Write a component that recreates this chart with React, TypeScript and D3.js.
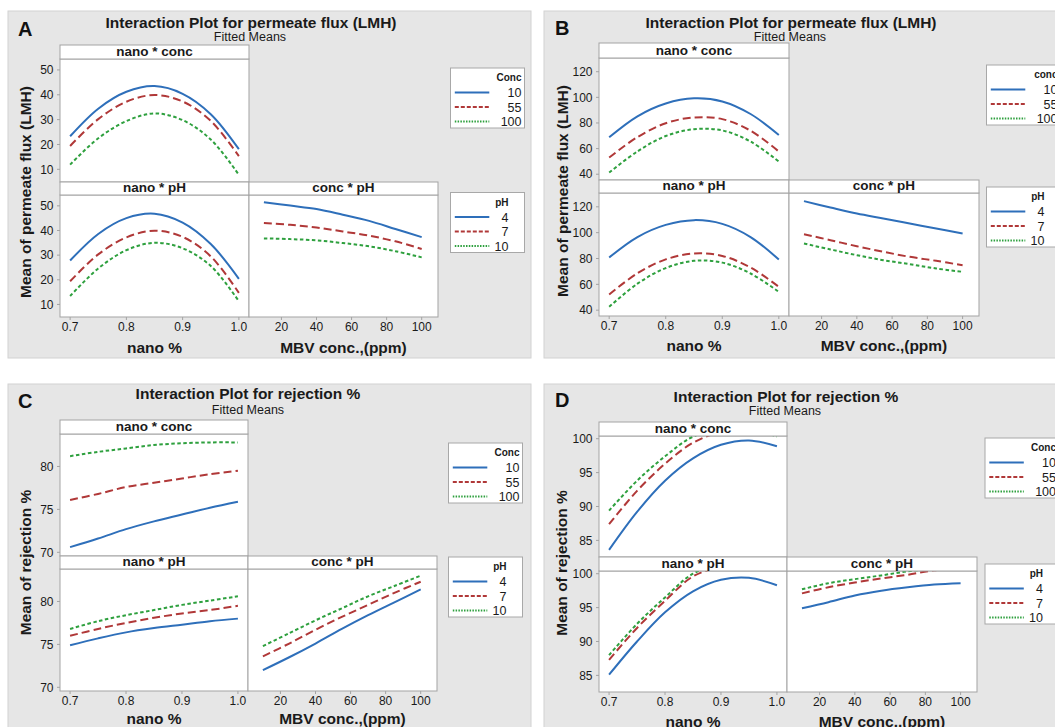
import React from 'react';
import * as d3 from 'd3';

const nanoLevels = [0.7, 0.75, 0.8, 0.85, 0.9, 0.95, 1.0];
const mbvLevels = [10, 25, 40, 55, 70, 85, 100];
const concLabels = ['10', '55', '100'];
const phLabels = ['4', '7', '10'];
const nanoTicks = [0.7, 0.8, 0.9, 1.0];
const mbvTicks = [20, 40, 60, 80, 100];

// A - permeate flux
const fluxATicks = [10, 20, 30, 40, 50];
const fluxA_nanoConc = [
  [23.3, 34.4, 41.2, 43.5, 40.4, 32.2, 18.1],
  [19.4, 30.2, 37.2, 39.9, 37.3, 29.5, 15.3],
  [11.9, 22.5, 29.4, 32.5, 29.8, 22.0, 7.8],
];
const fluxA_nanoPh = [
  [27.8, 38.6, 45.0, 46.8, 43.2, 34.5, 20.4],
  [19.4, 30.3, 37.2, 39.9, 37.4, 29.5, 14.7],
  [13.4, 24.6, 32.0, 35.0, 32.8, 25.6, 11.3],
];
const fluxA_concPh = [
  [51.5, 50.1, 48.7, 46.4, 43.9, 40.6, 37.3],
  [43.0, 42.3, 41.2, 39.6, 37.9, 35.6, 32.5],
  [36.8, 36.5, 36.0, 34.9, 33.6, 31.6, 29.1],
];

// B - permeate flux
const fluxBTicks = [40, 60, 80, 100, 120];
const fluxB_nanoConc = [
  [68.8, 85.2, 95.2, 99.2, 96.8, 87.0, 70.6],
  [53.0, 69.0, 79.8, 84.3, 83.0, 74.0, 57.7],
  [41.3, 57.8, 69.8, 75.1, 74.2, 65.5, 49.9],
];
const fluxB_nanoPh = [
  [80.8, 96.6, 106.0, 109.7, 106.8, 96.6, 79.2],
  [52.1, 68.6, 79.3, 83.9, 82.0, 73.0, 58.1],
  [42.6, 60.5, 72.6, 78.2, 76.8, 68.4, 54.2],
];
const fluxB_concPh = [
  [124.4, 119.5, 114.8, 111.0, 107.1, 103.2, 99.4],
  [98.8, 94.2, 89.5, 85.2, 81.3, 78.2, 74.8],
  [91.6, 87.0, 82.6, 78.7, 75.6, 72.3, 69.7],
];

// C - rejection
const rejCTicks = [70, 75, 80];
const rejC_nanoConc = [
  [70.6, 71.6, 72.7, 73.6, 74.4, 75.2, 75.9],
  [76.1, 76.8, 77.6, 78.1, 78.6, 79.1, 79.5],
  [81.2, 81.7, 82.1, 82.5, 82.7, 82.8, 82.8],
];
const rejC_nanoPh = [
  [74.9, 75.7, 76.4, 76.9, 77.3, 77.7, 78.0],
  [76.0, 76.8, 77.5, 78.1, 78.6, 79.0, 79.5],
  [76.8, 77.7, 78.4, 79.0, 79.6, 80.1, 80.6],
];
const rejC_concPh = [
  [72.0, 73.5, 75.1, 76.8, 78.4, 79.9, 81.4],
  [73.6, 75.1, 76.7, 78.2, 79.6, 81.0, 82.3],
  [74.8, 76.3, 77.8, 79.2, 80.6, 81.8, 83.0],
];

// D - rejection (values above the frame are clipped, as in the original)
const rejDTicks = [85, 90, 95, 100];
const rejD_nanoConc = [
  [83.6, 89.2, 93.8, 97.1, 99.1, 99.75, 98.9],
  [87.4, 92.3, 96.3, 99.4, 101.0, 101.3, 100.7],
  [89.4, 93.8, 97.4, 100.3, 101.4, 101.5, 100.3],
];
const rejD_nanoPh = [
  [85.1, 90.0, 94.3, 97.4, 99.1, 99.4, 98.3],
  [87.3, 92.0, 96.0, 99.6, 101.0, 101.3, 100.7],
  [88.0, 92.6, 96.5, 100.0, 101.3, 101.5, 100.9],
];
const rejD_concPh = [
  [94.9, 95.8, 96.8, 97.5, 98.0, 98.4, 98.6],
  [97.1, 98.0, 98.7, 99.3, 99.85, 100.5, 100.8],
  [97.7, 98.6, 99.2, 99.75, 100.35, 100.7, 101.0],
];

const styles = [
  { color: '#2e6fba', dash: undefined, legDash: undefined },
  { color: '#b03838', dash: '8,4', legDash: '4,2' },
  { color: '#2ea03e', dash: '3.5,2.5', legDash: '1.5,1.3' },
];

const FONT = '"Liberation Sans", Arial, sans-serif';
const TXT = '#1a1a1a';
const FRAME = '#a3a3a3';

const Legend = ({ x, y, title, labels, labelRight }) => (
  <g>
    <rect x={x} y={y} width={74} height={60} fill="#fff" stroke="#a8a8a8" />
    <text x={x + labelRight} y={y + 13} textAnchor="end" fontSize={10} fontWeight="bold" fill={TXT}>{title}</text>
    {labels.map((l, i) => {
      const yy = y + 24.5 + i * 14.5;
      return (
        <g key={l}>
          <line x1={x + 4.3} x2={x + 38.8} y1={yy} y2={yy} stroke={styles[i].color} strokeWidth={2}
            strokeDasharray={styles[i].legDash} />
          <text x={x + labelRight} y={yy + 4.5} textAnchor="end" fontSize={12.5} fill={TXT}>{l}</text>
        </g>
      );
    })}
  </g>
);

const Panel = ({ id, p }) => {
  const xNano = d3.scaleLinear().domain([0.682, 1.018]).range([p.left, p.mid]);
  const xMbv = d3.scaleLinear().domain([1.5, 109.3]).range([p.mid, p.right]);
  const yTop = d3.scaleLinear().domain(p.yDomain).range([p.r1Bot, p.s1Bot]);
  const yBot = d3.scaleLinear().domain(p.yDomain).range([p.r2Bot, p.s2Bot]);

  const cells = [
    { key: 'nc', x: xNano, y: yTop, xs: nanoLevels, data: p.nanoConc, x0: p.left, x1: p.mid, y0: p.s1Bot, y1: p.r1Bot },
    { key: 'np', x: xNano, y: yBot, xs: nanoLevels, data: p.nanoPh, x0: p.left, x1: p.mid, y0: p.s2Bot, y1: p.r2Bot },
    { key: 'cp', x: xMbv, y: yBot, xs: mbvLevels, data: p.concPh, x0: p.mid, x1: p.right, y0: p.s2Bot, y1: p.r2Bot },
  ];

  const strips = [
    { label: 'nano * conc', x0: p.left, x1: p.mid, y0: p.s1Top, y1: p.s1Bot },
    { label: 'nano * pH', x0: p.left, x1: p.mid, y0: p.r1Bot, y1: p.s2Bot },
    { label: 'conc * pH', x0: p.mid, x1: p.right, y0: p.r1Bot, y1: p.s2Bot },
  ];

  return (
    <g>
      <rect x={p.ox} y={p.oy} width={523} height={347} fill="#e6e6e6" stroke="#d2d2d2" />
      <text x={p.letterX} y={p.letterY} fontSize={20} fontWeight="bold" fill="#111">{p.letter}</text>
      <text x={p.titleX} y={p.titleY} textAnchor="middle" fontSize={15.5} fontWeight="bold" fill={TXT}>{p.title}</text>
      <text x={p.subX} y={p.subY} textAnchor="middle" fontSize={12.5} fill={TXT}>Fitted Means</text>

      <defs>
        {cells.map(c => (
          <clipPath key={c.key} id={`${id}-${c.key}`}>
            <rect x={c.x0} y={c.y0} width={c.x1 - c.x0} height={c.y1 - c.y0} />
          </clipPath>
        ))}
      </defs>

      {cells.map(c => {
        const line = d3.line<number>()
          .x((_, i) => c.x(c.xs[i]))
          .y(v => c.y(v))
          .curve(d3.curveCatmullRom.alpha(0.5));
        return (
          <g key={c.key}>
            <rect x={c.x0} y={c.y0} width={c.x1 - c.x0} height={c.y1 - c.y0} fill="#fff" stroke={FRAME} />
            <g clipPath={`url(#${id}-${c.key})`}>
              {c.data.map((s, i) => (
                <path key={i} d={line(s) || ''} fill="none" stroke={styles[i].color} strokeWidth={2}
                  strokeDasharray={styles[i].dash} />
              ))}
            </g>
          </g>
        );
      })}

      {strips.map(s => (
        <g key={s.label}>
          <rect x={s.x0} y={s.y0} width={s.x1 - s.x0} height={s.y1 - s.y0} fill="#fff" stroke={FRAME} />
          <text x={(s.x0 + s.x1) / 2} y={s.y1 - 3} textAnchor="middle" fontSize={13.5} fontWeight="bold" fill={TXT}>{s.label}</text>
        </g>
      ))}

      {/* y axes, left column only */}
      {[yTop, yBot].map((ys, r) => (
        <g key={r}>
          {p.yTicks.map(t => (
            <g key={t}>
              <line x1={p.left - 3} x2={p.left} y1={ys(t)} y2={ys(t)} stroke={FRAME} />
              <text x={p.left - 6.5} y={ys(t)} dy="0.35em" textAnchor="end" fontSize={12} fill={TXT}>{t}</text>
            </g>
          ))}
        </g>
      ))}

      {/* x axes, bottom row */}
      {nanoTicks.map(t => (
        <g key={'n' + t}>
          <line x1={xNano(t)} x2={xNano(t)} y1={p.r2Bot} y2={p.r2Bot + 3} stroke={FRAME} />
          <text x={xNano(t)} y={p.r2Bot + 13.5} textAnchor="middle" fontSize={12} fill={TXT}>{d3.format('.1f')(t)}</text>
        </g>
      ))}
      {mbvTicks.map(t => (
        <g key={'m' + t}>
          <line x1={xMbv(t)} x2={xMbv(t)} y1={p.r2Bot} y2={p.r2Bot + 3} stroke={FRAME} />
          <text x={xMbv(t)} y={p.r2Bot + 13.5} textAnchor="middle" fontSize={12} fill={TXT}>{t}</text>
        </g>
      ))}

      <text x={(p.left + p.mid) / 2} y={p.xTitleY} textAnchor="middle" fontSize={15.5} fontWeight="bold" fill={TXT}>nano %</text>
      <text x={(p.mid + p.right) / 2} y={p.xTitleY} textAnchor="middle" fontSize={15.5} fontWeight="bold" fill={TXT}>MBV conc.,(ppm)</text>
      <text transform={`translate(${p.yTitleX},${p.yTitleY}) rotate(-90)`} textAnchor="middle" dy="0.35em"
        fontSize={15.5} fontWeight="bold" fill={TXT}>{p.yTitle}</text>

      <Legend x={p.legX} y={p.leg1Y} title={p.concTitle} labels={concLabels} labelRight={71} />
      <Legend x={p.legX} y={p.leg2Y} title="pH" labels={phLabels} labelRight={58} />
    </g>
  );
};

const panels = [
  {
    letter: 'A', title: 'Interaction Plot for permeate flux (LMH)', yTitle: 'Mean of permeate flux (LMH)', concTitle: 'Conc',
    yDomain: [4.9, 54.4], yTicks: fluxATicks, nanoConc: fluxA_nanoConc, nanoPh: fluxA_nanoPh, concPh: fluxA_concPh,
    ox: 8, oy: 11, left: 60, mid: 249, right: 438, s1Top: 45, s1Bot: 59, r1Bot: 182, s2Bot: 195, r2Bot: 317,
    letterX: 18, letterY: 36, titleX: 251, titleY: 27.5, subX: 250, subY: 41.3,
    yTitleX: 25.5, yTitleY: 192, xTitleY: 352.7, legX: 450.5, leg1Y: 68, leg2Y: 192.5,
  },
  {
    letter: 'B', title: 'Interaction Plot for permeate flux (LMH)', yTitle: 'Mean of permeate flux (LMH)', concTitle: 'conc',
    yDomain: [35.5, 130.7], yTicks: fluxBTicks, nanoConc: fluxB_nanoConc, nanoPh: fluxB_nanoPh, concPh: fluxB_concPh,
    ox: 544, oy: 11, left: 599, mid: 789, right: 979, s1Top: 43, s1Bot: 58, r1Bot: 180, s2Bot: 193, r2Bot: 316,
    letterX: 555, letterY: 35, titleX: 791, titleY: 28.3, subX: 790, subY: 40.7,
    yTitleX: 562.5, yTitleY: 191, xTitleY: 350.7, legX: 986.5, leg1Y: 65, leg2Y: 187,
  },
  {
    letter: 'C', title: 'Interaction Plot for rejection %', yTitle: 'Mean of rejection %', concTitle: 'Conc',
    yDomain: [69.57, 83.78], yTicks: rejCTicks, nanoConc: rejC_nanoConc, nanoPh: rejC_nanoPh, concPh: rejC_concPh,
    ox: 8, oy: 384, left: 60, mid: 248, right: 437, s1Top: 420, s1Bot: 434, r1Bot: 556, s2Bot: 569, r2Bot: 691,
    letterX: 18, letterY: 408, titleX: 248, titleY: 399.3, subX: 248, subY: 414,
    yTitleX: 25.5, yTitleY: 562.5, xTitleY: 724, legX: 448.5, leg1Y: 443, leg2Y: 557,
  },
  {
    letter: 'D', title: 'Interaction Plot for rejection %', yTitle: 'Mean of rejection %', concTitle: 'Conc',
    yDomain: [82.55, 100.4], yTicks: rejDTicks, nanoConc: rejD_nanoConc, nanoPh: rejD_nanoPh, concPh: rejD_concPh,
    ox: 544, oy: 384, left: 599, mid: 787, right: 977, s1Top: 422, s1Bot: 436, r1Bot: 557, s2Bot: 571, r2Bot: 692,
    letterX: 555, letterY: 407, titleX: 786, titleY: 401.7, subX: 785, subY: 415,
    yTitleX: 561.7, yTitleY: 563, xTitleY: 726.5, legX: 985, leg1Y: 438, leg2Y: 564,
  },
];

export default function App() {
  return (
    <svg width={1055} height={727} style={{ position: 'absolute', left: 0, top: 0, background: '#fff' }}
      fontFamily={FONT}>
      {panels.map(p => <Panel key={p.letter} id={'p' + p.letter} p={p} />)}
    </svg>
  );
}
